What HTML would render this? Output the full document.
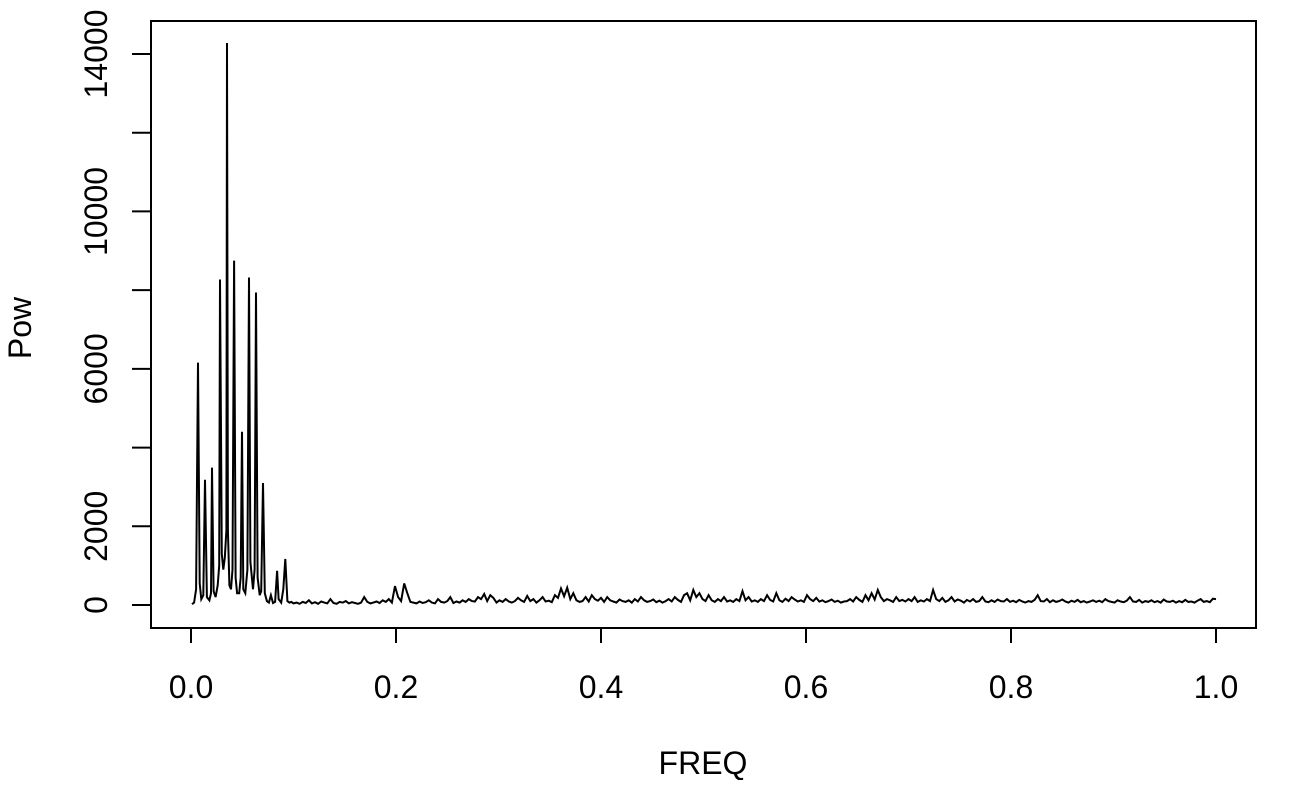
<!DOCTYPE html>
<html><head><meta charset="utf-8"><style>
html,body{margin:0;padding:0;background:#fff;}
svg text{font-family:"Liberation Sans",Arial,sans-serif;fill:#000;}
</style></head><body>
<svg width="1306" height="780" viewBox="0 0 1306 780" xmlns="http://www.w3.org/2000/svg">
<rect x="151" y="21" width="1105" height="607" fill="none" stroke="#000" stroke-width="2"/>
<g id="axes"></g>
<polyline id="series" fill="none" stroke="#000" stroke-width="2" stroke-linejoin="miter"/>
<text x="703" y="774" font-size="32" text-anchor="middle">FREQ</text>
<text x="0" y="0" font-size="32" text-anchor="middle" transform="translate(31,328) rotate(-90)">Pow</text>
</svg>
<script>
const xTicks=[0,0.2,0.4,0.6,0.8,1.0];
const xTickLabels=["0.0","0.2","0.4","0.6","0.8","1.0"];
const yTicks=[0,2000,6000,10000,14000];
const yTickLabels=["0","2000","6000","10000","14000"];
const yMinorTicks=[4000,8000,12000];
const lowFreq=[0.001,0.003,0.005,0.0068,0.0085,0.010,0.012,0.0137,0.0155,0.018,0.0195,0.0205,0.022,0.024,0.026,0.0275,0.0283,0.030,0.0315,0.033,0.0345,0.0351,0.036,0.0375,0.039,0.0405,0.042,0.0435,0.045,0.047,0.0485,0.0498,0.051,0.053,0.055,0.0566,0.058,0.0605,0.062,0.0634,0.065,0.067,0.0685,0.0702,0.072,0.074,0.076,0.078,0.080,0.082,0.084,0.0855,0.088,0.090,0.092,0.094,0.096,0.098];
const lowPow=[20,60,400,6160,550,150,250,3180,200,120,300,3490,350,200,500,1000,8270,1300,900,1200,1900,14280,1900,500,400,900,8750,700,300,300,700,4400,400,300,900,8320,1100,400,900,7940,700,250,350,3100,300,100,60,250,50,80,870,150,60,400,1170,100,60,80];
const highStart=0.100, highStep=0.003;
const highPow=[40,60,30,80,50,120,40,70,30,90,60,40,150,50,30,80,60,100,40,70,50,30,60,200,80,40,60,90,50,120,
80,150,60,480,200,100,550,300,80,60,40,90,50,70,120,60,40,150,80,60,100,200,50,90,60,120,80,150,100,90,
200,150,280,100,250,180,60,120,80,150,90,60,100,180,120,80,230,100,150,60,120,200,90,110,70,250,180,420,220,440,
150,300,120,80,100,200,90,250,150,110,180,80,200,120,90,60,140,100,80,120,60,150,90,200,120,80,100,140,70,110,
60,100,150,90,200,130,80,250,300,120,380,200,300,150,100,250,120,80,150,100,200,90,120,80,150,100,350,120,200,90,
120,80,150,100,250,130,90,300,120,80,160,100,200,140,90,120,80,250,150,100,180,90,120,70,100,140,80,110,60,90,
100,150,90,200,130,80,250,120,300,140,380,200,100,150,120,80,200,100,130,90,150,100,200,80,120,90,150,100,380,150,
100,180,80,120,200,90,140,110,60,130,90,150,80,100,200,90,70,120,80,140,100,90,150,80,110,70,130,90,60,100,
80,130,250,100,90,150,70,120,80,100,140,90,60,110,80,130,70,100,60,90,120,80,110,70,150,100,80,60,120,90,
70,110,200,90,80,130,60,100,80,120,70,100,60,140,90,80,110,60,100,70,130,80,90,60,110,150,80,100,70,160,150];
const NS="http://www.w3.org/2000/svg";
const xs=f=>191+f*1025;
const ys=v=>605-v*(551/14000);
const axes=document.getElementById('axes');
function mk(tag,attrs){const e=document.createElementNS(NS,tag);for(const k in attrs)e.setAttribute(k,attrs[k]);axes.appendChild(e);return e;}
const xl=mk('line',{x1:xs(0),x2:xs(1),y1:628,y2:628,stroke:'#000','stroke-width':2});


xTicks.forEach((t,i)=>{
 const l=mk('line',{x1:xs(t),x2:xs(t),y1:628,y2:643,stroke:'#000','stroke-width':2});
 
 
 const tx=mk('text',{x:xs(t),y:698,'font-size':32,'text-anchor':'middle'});
 tx.textContent=xTickLabels[i];
 
 
});
const yl=mk('line',{x1:151,x2:151,y1:ys(0),y2:ys(14000),stroke:'#000','stroke-width':2});


yTicks.concat(yMinorTicks).forEach(t=>{
 const l=mk('line',{x1:132,x2:151,y1:ys(t),y2:ys(t),stroke:'#000','stroke-width':2});
 
 
});
yTicks.forEach((t,i)=>{
 const tx=mk('text',{x:0,y:0,'font-size':32,'text-anchor':'middle',transform:`translate(107,${ys(t)}) rotate(-90)`});
 tx.textContent=yTickLabels[i];
 
 
});
const pts=[];
lowFreq.forEach((f,i)=>pts.push(xs(f).toFixed(1)+','+ys(lowPow[i]).toFixed(1)));
highPow.forEach((v,i)=>{const f=Math.min(1,highStart+i*highStep);pts.push(xs(f).toFixed(1)+','+ys(v).toFixed(1));});
document.getElementById('series').setAttribute('points',pts.join(' '));
</script>
</body></html>
